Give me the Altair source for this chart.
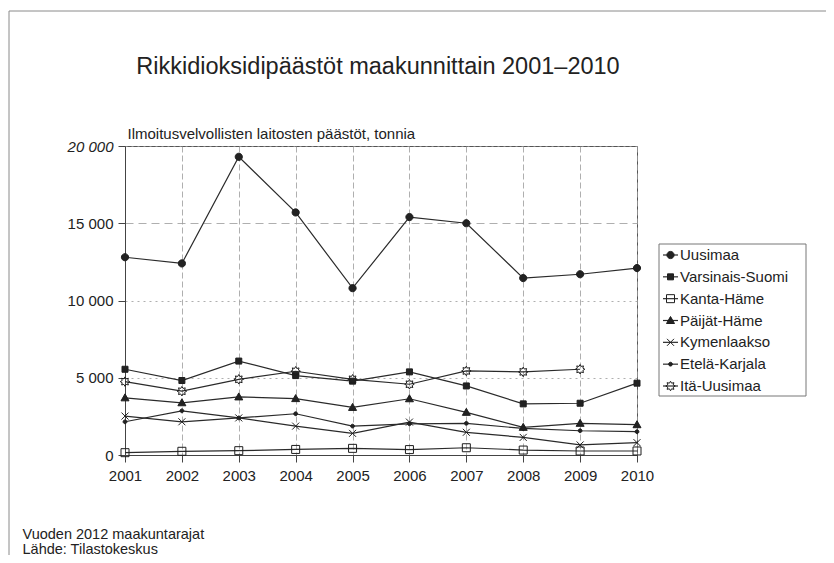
import math
import altair as alt
import pandas as pd

# ---------------- data ----------------
years = [2001, 2002, 2003, 2004, 2005, 2006, 2007, 2008, 2009, 2010]
regions = ["Uusimaa", "Varsinais-Suomi", "Kanta-Häme", "Päijät-Häme",
           "Kymenlaakso", "Etelä-Karjala", "Itä-Uusimaa"]
uusimaa = [12800, 12400, 19300, 15700, 10800, 15400, 15000, 11450, 11700, 12100]
varsinais_suomi = [5550, 4820, 6080, 5140, 4780, 5380, 4470, 3310, 3350, 4650]
kanta_hame = [150, 240, 280, 360, 430, 350, 470, 320, 260, 260]
paijat_hame = [3700, 3380, 3760, 3650, 3080, 3640, 2760, 1790, 2050, 1960]
kymenlaakso = [2520, 2150, 2400, 1870, 1400, 2130, 1470, 1140, 650, 800]
etela_karjala = [2150, 2860, 2400, 2670, 1870, 2020, 2050, 1720, 1570, 1510]
ita_uusimaa = [4750, 4130, 4900, 5420, 4900, 4580, 5440, 5380, 5550, None]
y_ticks = [0, 5000, 10000, 15000, 20000]

series_values = [uusimaa, varsinais_suomi, kanta_hame, paijat_hame,
                 kymenlaakso, etela_karjala, ita_uusimaa]
rows = []
for name, vals in zip(regions, series_values):
    for yr, v in zip(years, vals):
        if v is not None:
            rows.append({"year": yr, "region": name, "value": v})
df = pd.DataFrame(rows)
legend_df = pd.DataFrame({"region": regions})

# ---------------- marker shapes (unit = 5 px at size 100) ----------------
def circle(r):
    return f"M{r},0A{r},{r},0,1,1,{-r},0A{r},{r},0,1,1,{r},0Z"

def square(h):
    return f"M{-h},{-h}H{h}V{h}H{-h}Z"

def star(n, ro, ri):
    pts = []
    for i in range(2 * n):
        r = ro if i % 2 == 0 else ri
        a = math.pi * i / n - math.pi / 2
        pts.append(f"{r * math.cos(a):.3f},{r * math.sin(a):.3f}")
    return "M" + "L".join(pts) + "Z"

triangle = "M0,-0.8L0.8,0.6H-0.8Z"
xmark = "M-0.7,-0.7L0.7,0.7M-0.7,0.7L0.7,-0.7"

marker_shapes = [circle(0.72), square(0.6), square(0.8), triangle,
                 xmark, circle(0.38), star(8, 0.95, 0.6)]
fills = ["#222222", "#222222", "transparent", "#222222",
         "transparent", "#222222", "transparent"]

FONT = "Liberation Sans"
INK = "#222222"
LINE = "#2a2a2a"

shape_enc = alt.Shape("region:N", scale=alt.Scale(domain=regions, range=marker_shapes), legend=None)
fill_enc = alt.Fill("region:N", scale=alt.Scale(domain=regions, range=fills), legend=None)

x_enc = alt.X(
    "year:Q",
    scale=alt.Scale(domain=[2001, 2010], nice=False, zero=False),
    axis=alt.Axis(
        values=years, format="d", labelFontSize=15, labelPadding=6, labelFlush=False,
        tickSize=7, tickColor="#444", domainColor="#444",
        grid=True, gridColor="#9a9a9a", gridDash=[6, 3], gridWidth=0.8,
        title=["Vuoden 2012 maakuntarajat", "Lähde: Tilastokeskus"],
        titleX=-103, titleY=83, titleAlign="left", titleAnchor="start",
        titleBaseline="alphabetic", titleFontSize=14.5, titleFontWeight="normal",
        titleLineHeight=15, titleColor=INK,
    ),
)
y_scale = alt.Scale(domain=[0, 20000], nice=False, zero=True)
y_enc = alt.Y(
    "value:Q",
    scale=y_scale,
    axis=alt.Axis(
        values=y_ticks, labelFontSize=15, labelPadding=5,
        labelExpr="replace(format(datum.value, ','), ',', ' ')",
        labelFontStyle={"condition": {"test": "datum.value === 20000", "value": "italic"},
                        "value": "normal"},
        tickSize=7, tickColor="#444", domainColor="#444",
        grid=True, gridColor="#9a9a9a", gridWidth=0.8,
        gridDash={"condition": {"test": "datum.value === 15000", "value": [8, 5]},
                  "value": [2, 4]},
        title="Ilmoitusvelvollisten laitosten päästöt, tonnia",
        titleAngle=0, titleX=2, titleY=-8, titleAlign="left",
        titleBaseline="alphabetic", titleFontSize=15, titleFontWeight="normal",
        titleColor=INK,
    ),
)
y_enc_plain = alt.Y("value:Q", scale=y_scale, axis=None)

lines = alt.Chart(df).mark_line(color=LINE, strokeWidth=1.2).encode(
    x=x_enc, y=y_enc, detail="region:N"
)

markers = alt.Chart(df).mark_point(
    size=100, stroke="#1e1e1e", strokeWidth=1, opacity=1
).encode(x=x_enc, y=y_enc_plain, shape=shape_enc, fill=fill_enc)

# ---------------- legend (drawn from the region list) ----------------
legend_y = alt.Y("region:N", axis=None,
                 scale=alt.Scale(type="point", domain=regions, range=[109, 240], padding=0))
one = alt.Data(values=[{}])

legend_box = alt.Chart(one).mark_rect(fill="white", stroke="#777777", strokeWidth=1).encode(
    x=alt.value(534), x2=alt.value(681), y=alt.value(98), y2=alt.value(250)
)
legend_lines = alt.Chart(legend_df).mark_rule(color=LINE, strokeWidth=1.2).encode(
    x=alt.value(538), x2=alt.value(553), y=legend_y
)
legend_symbols = alt.Chart(legend_df).mark_point(
    size=100, stroke="#1e1e1e", strokeWidth=1, opacity=1
).encode(x=alt.value(545.5), y=legend_y, shape=shape_enc, fill=fill_enc)
legend_labels = alt.Chart(legend_df).mark_text(
    align="left", baseline="middle", font=FONT, fontSize=15, color=INK
).encode(x=alt.value(555), y=legend_y, text="region:N")

title_text = alt.Chart(one).mark_text(
    text="Rikkidioksidipäästöt maakunnittain 2001–2010", font=FONT, fontSize=23.5,
    align="center", baseline="alphabetic", color=INK,
).encode(x=alt.value(253), y=alt.value(-72))

frame_top = alt.Chart(one).mark_rule(color="#8a8a8a", strokeWidth=1).encode(
    x=alt.value(-116), x2=alt.value(701), y=alt.value(-135)
)
frame_left = alt.Chart(one).mark_rule(color="#8a8a8a", strokeWidth=1).encode(
    x=alt.value(-116), y=alt.value(-135), y2=alt.value(409)
)

chart = alt.layer(
    frame_top, frame_left, lines, markers,
    legend_box, legend_lines, legend_symbols, legend_labels, title_text
).resolve_scale(
    y="independent"
).properties(
    width=512, height=309,
    autosize=alt.AutoSizeParams(type="none"),
    padding={"left": 117, "top": 138, "right": 189, "bottom": 100},
).configure(
    font=FONT,
).configure_view(
    stroke="#555555", strokeWidth=1,
).configure_axis(
    labelFont=FONT, titleFont=FONT, labelColor=INK,
)

chart.save("out.html", embed_options={"renderer": "svg", "actions": False})
